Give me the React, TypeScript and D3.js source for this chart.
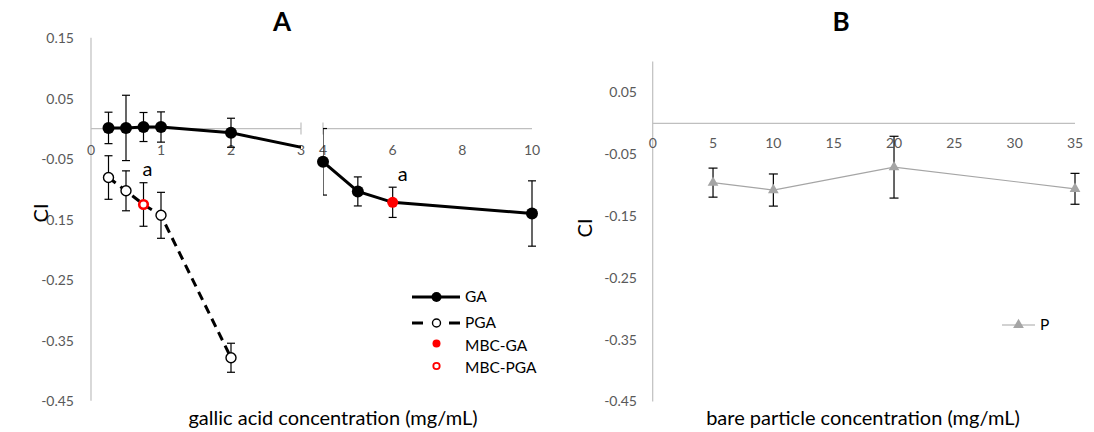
import React from "react";
import * as d3 from "d3";

// ---- Panel A data ----
const gaX = [0.25, 0.5, 0.75, 1, 2, 4, 5, 6, 10];
const gaY = [0.001, 0.001, 0.0025, 0.0025, -0.007, -0.055, -0.104, -0.122, -0.1405];
const gaErr = [0.026, 0.054, 0.024, 0.025, 0.024, 0.055, 0.024, 0.025, 0.054];
const pgaX = [0.25, 0.5, 0.75, 1, 2];
const pgaY = [-0.081, -0.103, -0.1256, -0.1435, -0.379];
const pgaErr = [0.036, 0.033, 0.036, 0.038, 0.024];
const mbcGaX = [6];
const mbcGaY = [-0.122];
const mbcPgaX = [0.75];
const mbcPgaY = [-0.1256];
const yTicksA = [0.15, 0.05, -0.05, -0.15, -0.25, -0.35, -0.45];
const xTicksALeft = [0, 1, 2, 3];
const xTicksARight = [4, 6, 8, 10];
const legendA = ["GA", "PGA", "MBC-GA", "MBC-PGA"];

// ---- Panel B data ----
const pX = [5, 10, 20, 35];
const pY = [-0.096, -0.108, -0.071, -0.106];
const pErr = [0.0235, 0.026, 0.05, 0.025];
const yTicksB = [0.05, -0.05, -0.15, -0.25, -0.35, -0.45];
const xTicksB = [0, 5, 10, 15, 20, 25, 30, 35];

const FONT = "Lato, 'Open Sans', sans-serif";
const AXIS = "#BFBFBF";
const TICK = "#595959";
const GRAY = "#A5A5A5";

export default function App() {
  // Panel A scales
  const yA = d3.scaleLinear().domain([-0.45, 0.15]).range([400.7, 37.8]);
  const xL = d3.scaleLinear().domain([0, 3]).range([91, 301]);
  const xR = d3.scaleLinear().domain([4, 10]).range([323, 532]);
  // Panel B scales
  const yB = d3.scaleLinear().domain([-0.45, 0.1]).range([401.4, 61.5]);
  const xB = d3.scaleLinear().domain([0, 35]).range([652.7, 1075]);

  const ga = gaX.map((x, i) => ({ x, y: gaY[i], e: gaErr[i] }));
  const pga = pgaX.map((x, i) => ({ x, y: pgaY[i], e: pgaErr[i] }));
  const pp = pX.map((x, i) => ({ x, y: pY[i], e: pErr[i] }));

  const lineA = (xs: d3.ScaleLinear<number, number>) =>
    d3.line<{ x: number; y: number }>().x((d) => xs(d.x)).y((d) => yA(d.y));
  const lineB = d3.line<{ x: number; y: number }>().x((d) => xB(d.x)).y((d) => yB(d.y));

  const fmt = (v: number) => (Math.abs(v) < 1e-9 ? "0" : (v < 0 ? "-" : "") + Math.abs(v).toFixed(2));

  const errBars = (
    data: { x: number; y: number; e: number }[],
    xs: (v: number) => number,
    ys: (v: number) => number,
    cap: number,
    key: string
  ) =>
    data.map((d, i) => {
      const cx = xs(d.x);
      const t = ys(d.y + d.e);
      const b = ys(d.y - d.e);
      return (
        <g key={key + i} stroke="#000" strokeWidth={1.2}>
          <line x1={cx} x2={cx} y1={t} y2={b} />
          <line x1={cx - cap} x2={cx + cap} y1={t} y2={t} />
          <line x1={cx - cap} x2={cx + cap} y1={b} y2={b} />
        </g>
      );
    });

  const tri = d3.symbol().type(d3.symbolTriangle).size(50)();

  const gaLeft = ga.filter((d) => d.x <= 3);
  const gaRight = ga.filter((d) => d.x >= 4);

  return (
    <svg
      width={1094}
      height={432}
      style={{ position: "absolute", left: 0, top: 0, background: "#fff" }}
      fontFamily={FONT}
    >
      <defs>
        <clipPath id="clipL">
          <rect x={91} y={0} width={210} height={432} />
        </clipPath>
        <clipPath id="clipR">
          <rect x={323} y={0} width={230} height={432} />
        </clipPath>
      </defs>

      {/* ================= Panel A ================= */}
      <text x={282} y={31} textAnchor="middle" fontSize={26} fontWeight="bold" fill="#000">
        A
      </text>
      {/* y axis */}
      <line x1={91} x2={91} y1={yA(0.15)} y2={yA(-0.45)} stroke={AXIS} strokeWidth={1.2} />
      {yTicksA.map((v) => (
        <text key={"ya" + v} x={74} y={yA(v) + 2} textAnchor="end" dominantBaseline="middle" fontSize={14} fill={TICK}>
          {fmt(v)}
        </text>
      ))}
      {/* x axis segments */}
      <line x1={xL(0)} x2={xL(3)} y1={yA(0)} y2={yA(0)} stroke={AXIS} strokeWidth={1.2} />
      <line x1={xL(3)} x2={xL(3)} y1={yA(0) - 6} y2={yA(0) + 6} stroke={AXIS} strokeWidth={1.2} />
      <line x1={xR(4)} x2={xR(10)} y1={yA(0)} y2={yA(0)} stroke={AXIS} strokeWidth={1.2} />
      <line x1={xR(4)} x2={xR(4)} y1={yA(0) - 6} y2={yA(0) + 6} stroke={AXIS} strokeWidth={1.2} />
      {xTicksALeft.map((v) => (
        <text key={"xl" + v} x={xL(v)} y={yA(0) + 23} textAnchor="middle" dominantBaseline="middle" fontSize={14} fill={TICK}>
          {v}
        </text>
      ))}
      {xTicksARight.map((v) => (
        <text key={"xr" + v} x={xR(v)} y={yA(0) + 23} textAnchor="middle" dominantBaseline="middle" fontSize={14} fill={TICK}>
          {v}
        </text>
      ))}

      {/* lines */}
      <g clipPath="url(#clipL)">
        <path d={lineA(xL)(ga) || ""} fill="none" stroke="#000" strokeWidth={3} />
        <path d={lineA(xL)(pga) || ""} fill="none" stroke="#000" strokeWidth={3} strokeDasharray="9,6" />
        {errBars(gaLeft, xL, yA, 4, "gel")}
        {errBars(pga, xL, yA, 4, "pel")}
      </g>
      <g clipPath="url(#clipR)">
        <path d={lineA(xR)(ga) || ""} fill="none" stroke="#000" strokeWidth={3} />
        {errBars(gaRight, xR, yA, 4, "ger")}
      </g>

      {/* markers */}
      {gaLeft
        .filter((d) => !mbcGaX.includes(d.x))
        .map((d, i) => (
          <circle key={"gml" + i} cx={xL(d.x)} cy={yA(d.y)} r={6} fill="#000" />
        ))}
      {gaRight
        .filter((d) => !mbcGaX.includes(d.x))
        .map((d, i) => (
          <circle key={"gmr" + i} cx={xR(d.x)} cy={yA(d.y)} r={6} fill="#000" />
        ))}
      {pga
        .filter((d) => !mbcPgaX.includes(d.x))
        .map((d, i) => (
          <circle key={"pm" + i} cx={xL(d.x)} cy={yA(d.y)} r={5} fill="#fff" stroke="#000" strokeWidth={1.4} />
        ))}
      {mbcGaX.map((x, i) => (
        <circle key={"mg" + i} cx={xR(x)} cy={yA(mbcGaY[i])} r={5.5} fill="#FF0000" />
      ))}
      {mbcPgaX.map((x, i) => (
        <circle key={"mp" + i} cx={xL(x)} cy={yA(mbcPgaY[i])} r={4.3} fill="#fff" stroke="#FF0000" strokeWidth={2.6} />
      ))}
      {/* "a" labels */}
      <text x={xL(mbcPgaX[0]) + 4} y={yA(mbcPgaY[0]) - 34} textAnchor="middle" dominantBaseline="middle" fontSize={20} fill="#000">
        a
      </text>
      <text x={xR(mbcGaX[0]) + 10} y={yA(mbcGaY[0]) - 26} textAnchor="middle" dominantBaseline="middle" fontSize={20} fill="#000">
        a
      </text>

      {/* axis titles */}
      <text x={333} y={425} textAnchor="middle" fontSize={20} fill="#000">
        gallic acid concentration (mg/mL)
      </text>
      <text transform="translate(48,213) rotate(-90)" textAnchor="middle" fontSize={20} fill="#000">
        CI
      </text>

      {/* legend A */}
      <g>
        <line x1={412} x2={460} y1={297} y2={297} stroke="#000" strokeWidth={3} />
        <circle cx={436.5} cy={297} r={5} fill="#000" />
        <text x={465} y={298} dominantBaseline="middle" fontSize={15.5} fill="#000">{legendA[0]}</text>

        <line x1={412} x2={423} y1={323} y2={323} stroke="#000" strokeWidth={3} />
        <line x1={449} x2={460} y1={323} y2={323} stroke="#000" strokeWidth={3} />
        <circle cx={436.5} cy={323} r={4} fill="#fff" stroke="#000" strokeWidth={1.4} />
        <text x={465} y={324} dominantBaseline="middle" fontSize={15.5} fill="#000">{legendA[1]}</text>

        <circle cx={436.5} cy={343.5} r={4} fill="#FF0000" />
        <text x={465} y={347} dominantBaseline="middle" fontSize={15.5} fill="#000">{legendA[2]}</text>

        <circle cx={436.5} cy={366} r={3.2} fill="#fff" stroke="#FF0000" strokeWidth={1.8} />
        <text x={465} y={369.5} dominantBaseline="middle" fontSize={15.5} fill="#000">{legendA[3]}</text>
      </g>

      {/* ================= Panel B ================= */}
      <text x={841} y={31} textAnchor="middle" fontSize={26} fontWeight="bold" fill="#000">
        B
      </text>
      <line x1={xB(0)} x2={xB(0)} y1={yB(0.1)} y2={yB(-0.45)} stroke={AXIS} strokeWidth={1.2} />
      <line x1={xB(0)} x2={xB(35)} y1={yB(0)} y2={yB(0)} stroke={AXIS} strokeWidth={1.2} />
      {yTicksB.map((v) => (
        <text key={"yb" + v} x={637} y={yB(v) + 1.5} textAnchor="end" dominantBaseline="middle" fontSize={14} fill={TICK}>
          {fmt(v)}
        </text>
      ))}
      {xTicksB.map((v) => (
        <text key={"xb" + v} x={xB(v)} y={yB(0) + 21} textAnchor="middle" dominantBaseline="middle" fontSize={14} fill={TICK}>
          {v}
        </text>
      ))}
      <path d={lineB(pp) || ""} fill="none" stroke={GRAY} strokeWidth={1.2} />
      {errBars(pp, xB, yB, 4.5, "pb")}
      {pp.map((d, i) => (
        <path key={"pt" + i} d={tri || ""} transform={`translate(${xB(d.x)},${yB(d.y)})`} fill={GRAY} />
      ))}
      <text x={863} y={425} textAnchor="middle" fontSize={20} fill="#000">
        bare particle concentration (mg/mL)
      </text>
      <text transform="translate(592,228) rotate(-90)" textAnchor="middle" fontSize={20} fill="#000">
        CI
      </text>
      {/* legend B */}
      <line x1={1002} x2={1035} y1={325} y2={325} stroke={GRAY} strokeWidth={1.2} />
      <path d={tri || ""} transform="translate(1018.5,325)" fill={GRAY} />
      <text x={1040} y={326} dominantBaseline="middle" fontSize={15.5} fill="#000">P</text>
    </svg>
  );
}
